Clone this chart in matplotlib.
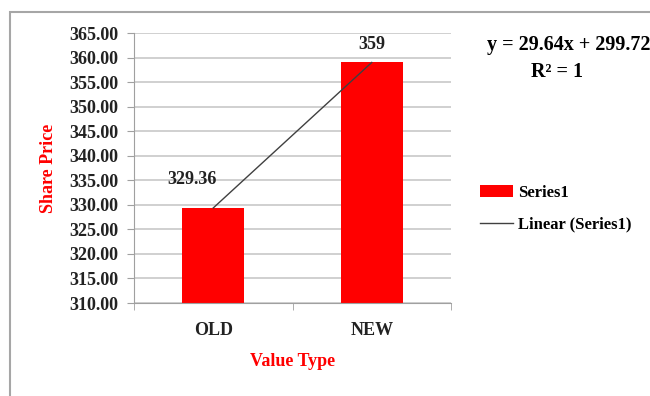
import numpy as np
import matplotlib.pyplot as plt
from matplotlib.patches import Rectangle

# Datos del grafico
categorias = ["OLD", "NEW"]
valores = [329.36, 359.0]
etiquetas = ["329.36", "359"]
ecuacion = "y = 29.64x + 299.72"
r2 = "R² = 1"

plt.rcParams["font.family"] = ["Liberation Serif", "DejaVu Serif"]
plt.rcParams["font.weight"] = "bold"
plt.rcParams["axes.labelweight"] = "bold"

fig = plt.figure(figsize=(6.5, 3.96), dpi=100)
ax = fig.add_axes([134 / 650, 1 - 303 / 396, 317 / 650, 270 / 396])

# marco del area del grafico
fig.patches.append(Rectangle((10 / 650, -0.1), 1.2, 1.1 - 12 / 396,
                             transform=fig.transFigure, fill=False,
                             edgecolor="#a6a6a6", lw=1.5, zorder=0))

x = np.arange(1, len(categorias) + 1)
ax.bar(x, valores, width=0.39, color="#ff0000", label="Series1", zorder=2)

# linea de tendencia lineal
coef = np.polyfit(x, valores, 1)
ax.plot(x, np.polyval(coef, x), color="#404040", lw=1, label="Linear (Series1)", zorder=3)

ax.set_xlim(0.5, 2.5)
ax.set_ylim(310, 365)
ax.set_yticks(np.arange(310, 365.1, 5))
ax.set_yticklabels([f"{v:.2f}" for v in np.arange(310, 365.1, 5)], fontsize=13, color="#222222")
ax.set_xticks(x)
ax.set_xticklabels(categorias, fontsize=13, color="#222222")
ax.set_xticks([0.5, 1.5, 2.5], minor=True)
ax.tick_params(axis="x", which="major", length=0, pad=14)
ax.tick_params(axis="x", which="minor", length=5, color="#a0a0a0")
ax.tick_params(axis="y", length=5, color="#a0a0a0", pad=6)
ax.grid(axis="y", color="#c8c8c8", lw=1.2, zorder=0)
ax.set_axisbelow(True)
for s in ["top", "right"]:
    ax.spines[s].set_visible(False)
for s in ["left", "bottom"]:
    ax.spines[s].set_color("#a0a0a0")

ax.set_ylabel("Share Price", color="#ff0000", fontsize=13, labelpad=9)
ax.set_xlabel("Value Type", color="#ff0000", fontsize=13, labelpad=10)

# etiquetas de datos
desplaz = [(-21, 28), (0, 18)]
for xi, v, t, d in zip(x, valores, etiquetas, desplaz):
    ax.annotate(t, (xi, v), xytext=d, textcoords="offset pixels",
                ha="center", va="center", fontsize=13, color="#222222")

fig.text(487 / 650, 1 - 45 / 396, ecuacion, fontsize=14.5, ha="left", va="center")
fig.text(557 / 650, 1 - 72 / 396, r2, fontsize=14.5, ha="center", va="center")

h, l = ax.get_legend_handles_labels()
ax.legend(h[::-1], l[::-1], loc="upper left", bbox_to_anchor=(480 / 650, 1 - 185 / 396),
          bbox_transform=fig.transFigure, frameon=False, fontsize=12,
          borderpad=0, borderaxespad=0,
          handlelength=2.0, handletextpad=0.3, labelspacing=0.95)

plt.savefig("out.png", dpi=100)
